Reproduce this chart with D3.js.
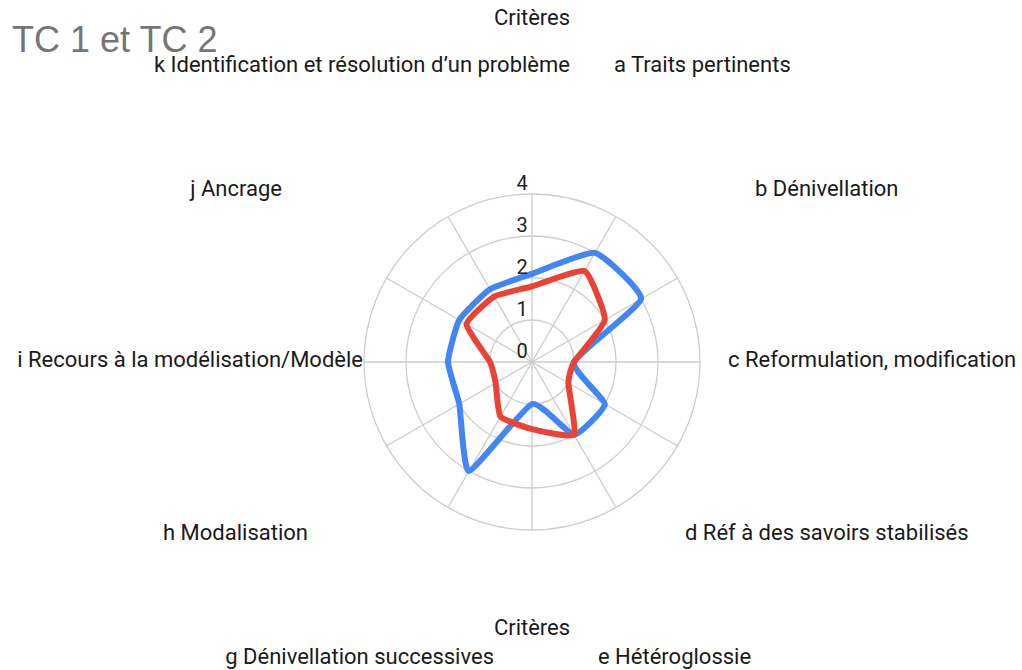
<!DOCTYPE html>
<html>
<head>
<meta charset="utf-8">
<script src="https://cdn.jsdelivr.net/npm/d3@7"></script>
<style>
  body { margin: 0; background: #fff; }
  text { font-family: Roboto, "Noto Sans", sans-serif; }
</style>
</head>
<body>
<div id="chart"></div>
<script>
// data
const categories = ["Critères", "a Traits pertinents", "b Dénivellation", "c Reformulation, modification",
  "d Réf à des savoirs stabilisés", "e Hétéroglossie", "Critères", "g Dénivellation successives",
  "h Modalisation", "i Recours à la modélisation/Modèle", "j Ancrage",
  "k Identification et résolution d’un problème"];
const tc1 = [2.1, 3, 3, 1, 2, 2, 1, 3, 2, 2, 2, 2];
const tc2 = [1.8, 2.5, 2, 1, 1, 2, 1.6, 1.5, 1, 1, 1.8, 1.8];
const tickValues = [0, 1, 2, 3, 4];

// setting up constants
const WIDTH = 1022, HEIGHT = 670;
const CX = 532, CY = 362, RADIUS = 168;

// where each category label sits, relative to the centre (anchor, dx, baseline dy)
const LABEL_LAYOUT = [
  ["middle", 0, -337], ["start", 82, -290], ["start", 223, -166], ["start", 196, 5],
  ["start", 153, 178], ["start", 66, 302], ["middle", 0, 273], ["end", -38, 302],
  ["end", -224, 178], ["end", -169, 5], ["end", -250, -166], ["end", 38, -290]
];

const svg = d3.select("#chart").append("svg")
  .attr("width", WIDTH)
  .attr("height", HEIGHT);

svg.append("text")
  .attr("x", 12).attr("y", 52)
  .style("font-family", "'Liberation Sans', Arial, sans-serif")
  .style("font-size", "36px")
  .attr("fill", "#757575")
  .text("TC 1 et TC 2");

const g = svg.append("g").attr("transform", "translate(" + CX + "," + CY + ")");

const r = d3.scaleLinear().domain([0, 4]).range([0, RADIUS]);
const angle = d3.scaleLinear().domain([0, categories.length]).range([0, 2 * Math.PI]);

// rings
g.selectAll(".ring")
  .data(tickValues.slice(1))
  .enter().append("circle")
  .attr("r", d => r(d))
  .attr("fill", "none")
  .attr("stroke", "#cccccc")
  .attr("stroke-width", 1.3);

// spokes
g.selectAll(".spoke")
  .data(categories)
  .enter().append("line")
  .attr("x1", 0).attr("y1", 0)
  .attr("x2", (d, i) => r(4) * Math.sin(angle(i)))
  .attr("y2", (d, i) => -r(4) * Math.cos(angle(i)))
  .attr("stroke", "#cccccc")
  .attr("stroke-width", 1.3);

// series
const line = d3.lineRadial()
  .angle((d, i) => angle(i))
  .radius(d => r(d))
  .curve(d3.curveCardinalClosed.tension(0.55));

g.append("path")
  .datum(tc1)
  .attr("d", line)
  .attr("fill", "none")
  .attr("stroke", "#4285f4")
  .attr("stroke-width", 6)
  .attr("stroke-linejoin", "round");

g.append("path")
  .datum(tc2)
  .attr("d", line)
  .attr("fill", "none")
  .attr("stroke", "#ea4335")
  .attr("stroke-width", 6)
  .attr("stroke-linejoin", "round");

// tick labels
g.selectAll(".tick")
  .data(tickValues)
  .enter().append("text")
  .attr("x", -10)
  .attr("y", d => -r(d) - 4)
  .attr("text-anchor", "middle")
  .style("font-size", "20px")
  .attr("fill", "#222")
  .text(d => d);

// category labels
g.selectAll(".cat")
  .data(categories)
  .enter().append("text")
  .attr("x", (d, i) => LABEL_LAYOUT[i][1])
  .attr("y", (d, i) => LABEL_LAYOUT[i][2])
  .attr("text-anchor", (d, i) => LABEL_LAYOUT[i][0])
  .style("font-size", "22px")
  .attr("fill", "#1a1a1a")
  .text(d => d);
</script>
</body>
</html>
